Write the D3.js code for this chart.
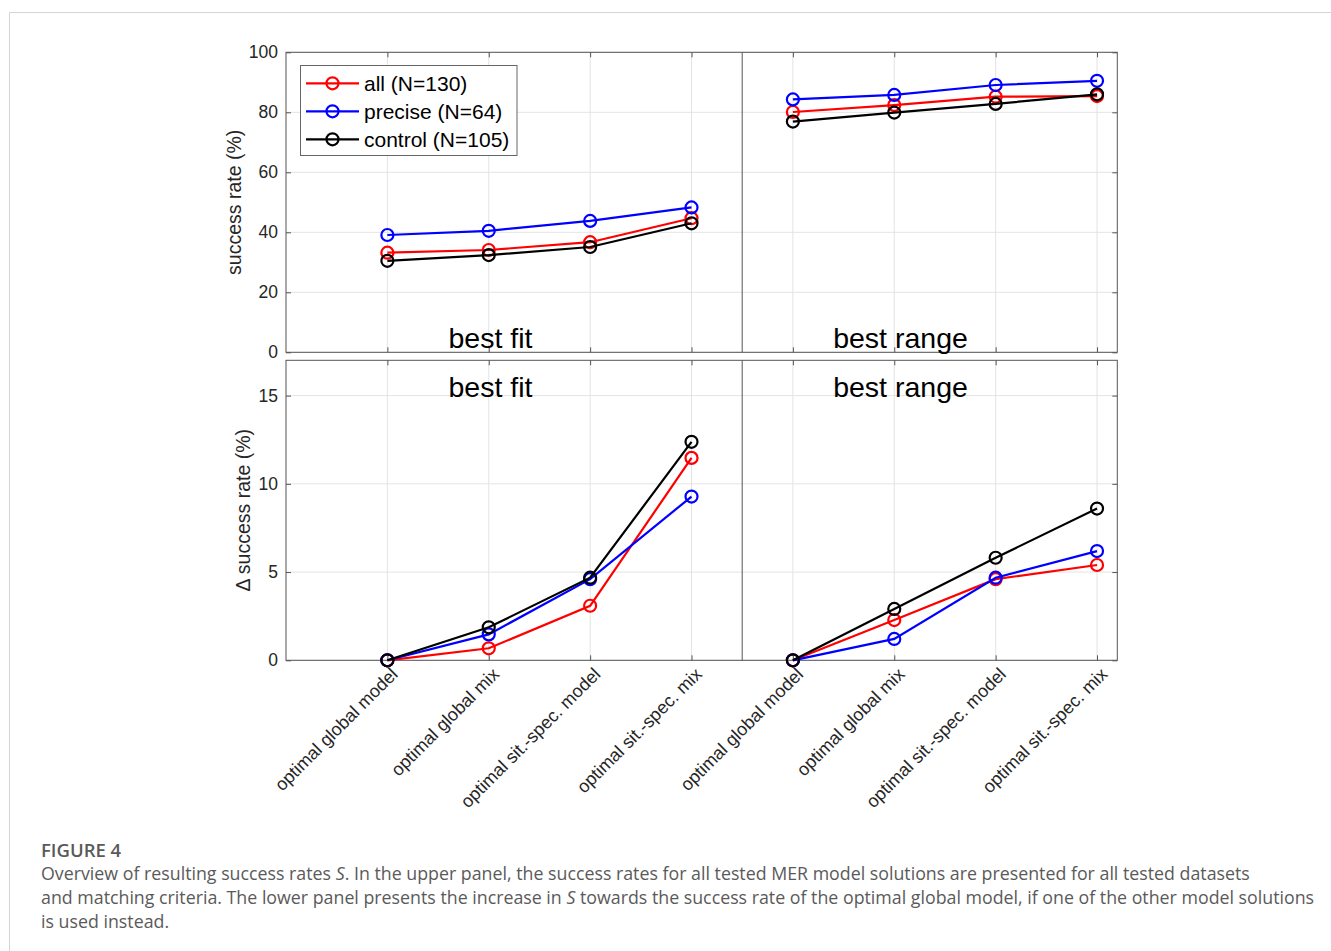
<!DOCTYPE html>
<html>
<head>
<meta charset="utf-8">
<script src="https://cdn.jsdelivr.net/npm/d3@7"></script>
<style>
    body { margin: 0; background: #fff; }
    svg { display: block; }
    .tick text { font-family: "Liberation Sans", Arial, sans-serif; }
</style>
</head>
<body>
<div id="chart"></div>
<script>
// categories along x, repeated for the two matching criteria
const categories = ['optimal global model', 'optimal global mix', 'optimal sit.-spec. model', 'optimal sit.-spec. mix'];
const groups = ['best fit', 'best range'];
const seriesNames = ['all (N=130)', 'precise (N=64)', 'control (N=105)'];
const seriesColors = ['#ff0000', '#0000ff', '#000000'];

// success rate (%), 4 x best fit then 4 x best range
const rateAll = [33.2, 34.1, 36.7, 44.7, 80.1, 82.4, 85.2, 85.4];
const ratePrecise = [39.1, 40.5, 43.8, 48.3, 84.3, 85.8, 89.1, 90.5];
const rateControl = [30.5, 32.4, 35.1, 43.0, 76.9, 79.9, 82.8, 86.0];

// delta success rate (%)
const deltaAll = [0, 0.68, 3.09, 11.47, 0, 2.28, 4.6, 5.4];
const deltaPrecise = [0, 1.47, 4.6, 9.28, 0, 1.21, 4.68, 6.19];
const deltaControl = [0, 1.87, 4.68, 12.38, 0, 2.91, 5.81, 8.6];

const rateTicks = [0, 20, 40, 60, 80, 100];
const deltaTicks = [0, 5, 10, 15];

const width = 1331;
const height = 951;
const axisColor = '#555';
const gridColor = '#e3e3e3';
const font = '"Liberation Sans", Arial, sans-serif';

const svg = d3.select('#chart').append('svg').attr('width', width).attr('height', height);

// card frame
svg.append('line').attr('x1', 9.5).attr('x2', width).attr('y1', 12.5).attr('y2', 12.5).attr('stroke', '#d4d4d4');
svg.append('line').attr('x1', 9.5).attr('x2', 9.5).attr('y1', 12.5).attr('y2', height).attr('stroke', '#d4d4d4');

const x = d3.scaleLinear().domain([0, 8.2]).range([286, 1117.3]);
const xTicks = d3.range(1, 9);

function drawPanel(opts) {
    const y = d3.scaleLinear().domain(opts.domain).range([opts.bottom, opts.top]);
    const g = svg.append('g');

    // grid
    g.append('g').selectAll('line').data(opts.ticks).enter().append('line')
        .attr('x1', x.range()[0]).attr('x2', x.range()[1])
        .attr('y1', d => y(d)).attr('y2', d => y(d))
        .attr('stroke', gridColor);
    g.append('g').selectAll('line').data(xTicks).enter().append('line')
        .attr('x1', d => x(d)).attr('x2', d => x(d))
        .attr('y1', opts.top).attr('y2', opts.bottom)
        .attr('stroke', gridColor);

    // divider between best fit and best range
    g.append('line').attr('x1', x(4.5)).attr('x2', x(4.5))
        .attr('y1', opts.top).attr('y2', opts.bottom)
        .attr('stroke', axisColor).attr('stroke-width', 1);

    // axes with inward ticks
    const left = g.append('g').attr('transform', `translate(${x.range()[0]},0)`)
        .call(d3.axisLeft(y).tickValues(opts.ticks).tickSizeInner(-5).tickSizeOuter(0).tickPadding(8));
    const right = g.append('g').attr('transform', `translate(${x.range()[1]},0)`)
        .call(d3.axisRight(y).tickValues(opts.ticks).tickSizeInner(-5).tickSizeOuter(0).tickFormat(''));
    const topAx = g.append('g').attr('transform', `translate(0,${opts.top})`)
        .call(d3.axisTop(x).tickValues(xTicks).tickSizeInner(-5).tickSizeOuter(0).tickFormat(''));
    const bottomAx = g.append('g').attr('transform', `translate(0,${opts.bottom})`)
        .call(d3.axisBottom(x).tickValues(xTicks).tickSizeInner(-5).tickSizeOuter(0)
            .tickFormat(opts.showLabels ? (d => categories[(d - 1) % 4]) : ''));

    [left, right, topAx, bottomAx].forEach(a => {
        a.select('.domain').remove();
        a.selectAll('line').attr('stroke', axisColor);
        a.selectAll('text').attr('fill', '#262626').attr('font-size', 17.5);
    });

    if (opts.showLabels) {
        bottomAx.selectAll('text')
            .attr('x', 0).attr('y', 0).attr('dy', 0)
            .attr('font-size', 18)
            .attr('text-anchor', 'end')
            .attr('transform', 'translate(11,15) rotate(-45)');
    }

    g.append('rect')
        .attr('x', x.range()[0]).attr('y', opts.top)
        .attr('width', x.range()[1] - x.range()[0]).attr('height', opts.bottom - opts.top)
        .attr('fill', 'none').attr('stroke', axisColor);

    // y label
    g.append('text')
        .attr('transform', `translate(${opts.labelX},${(opts.top + opts.bottom) / 2}) rotate(-90)`)
        .attr('text-anchor', 'middle')
        .attr('font-family', font)
        .attr('font-size', 19.5).attr('fill', '#262626')
        .text(opts.label);

    // group titles
    g.selectAll('.grp').data(groups).enter().append('text')
        .attr('x', (d, i) => i === 0 ? 490.5 : 900.5)
        .attr('y', opts.titleY)
        .attr('text-anchor', 'middle')
        .attr('font-family', font)
        .attr('font-size', 28.5).attr('fill', '#000')
        .text(d => d);

    // series
    const line = d3.line().x(d => x(d.i)).y(d => y(d.v));
    opts.series.forEach((values, s) => {
        const pts = values.map((v, k) => ({ i: k + 1, v: v }));
        [pts.slice(0, 4), pts.slice(4)].forEach(seg => {
            g.append('path').datum(seg).attr('d', line)
                .attr('fill', 'none').attr('stroke', seriesColors[s]).attr('stroke-width', 2.2);
        });
        g.selectAll(null).data(pts).enter().append('circle')
            .attr('cx', d => x(d.i)).attr('cy', d => y(d.v)).attr('r', 6)
            .attr('fill', 'none').attr('stroke', seriesColors[s]).attr('stroke-width', 2.2);
    });
}

drawPanel({
    domain: [0, 100], top: 52.3, bottom: 352.3, ticks: rateTicks,
    series: [rateAll, ratePrecise, rateControl],
    label: 'success rate (%)', labelX: 241, titleY: 348, showLabels: false
});

drawPanel({
    domain: [0, 17], top: 360.3, bottom: 660.3, ticks: deltaTicks,
    series: [deltaAll, deltaPrecise, deltaControl],
    label: '\u0394 success rate (%)', labelX: 250, titleY: 396.5, showLabels: true
});

// legend
const legend = svg.append('g');
legend.append('rect').attr('x', 300.5).attr('y', 65.5).attr('width', 216.5).attr('height', 90)
    .attr('fill', '#fff').attr('stroke', '#666');
seriesNames.forEach((name, i) => {
    const ly = 83.3 + i * 28;
    legend.append('line').attr('x1', 306).attr('x2', 359).attr('y1', ly).attr('y2', ly)
        .attr('stroke', seriesColors[i]).attr('stroke-width', 2.2);
    legend.append('circle').attr('cx', 332.5).attr('cy', ly).attr('r', 6)
        .attr('fill', 'none').attr('stroke', seriesColors[i]).attr('stroke-width', 2.2);
    legend.append('text').attr('x', 364).attr('y', ly + 7.5)
        .attr('font-family', font)
        .attr('font-size', 21).attr('fill', '#000')
        .text(name);
});

// caption
const cap = svg.append('g').attr('font-family', '"Open Sans", "Noto Sans", sans-serif').attr('fill', '#5a5a5a');
cap.append('text').attr('x', 41).attr('y', 857).attr('font-size', 18.5).attr('font-weight', 600).text('FIGURE 4');
const capLines = [
    ['Overview of resulting success rates ', 'S', '. In the upper panel, the success rates for all tested MER model solutions are presented for all tested datasets'],
    ['and matching criteria. The lower panel presents the increase in ', 'S', ' towards the success rate of the optimal global model, if one of the other model solutions'],
    ['is used instead.']
];
capLines.forEach((parts, i) => {
    const t = cap.append('text').attr('x', 41).attr('y', 880 + i * 24).attr('font-size', 17.8);
    parts.forEach((p, k) => {
        t.append('tspan').attr('font-style', k === 1 ? 'italic' : 'normal').text(p);
    });
});
</script>
</body>
</html>
